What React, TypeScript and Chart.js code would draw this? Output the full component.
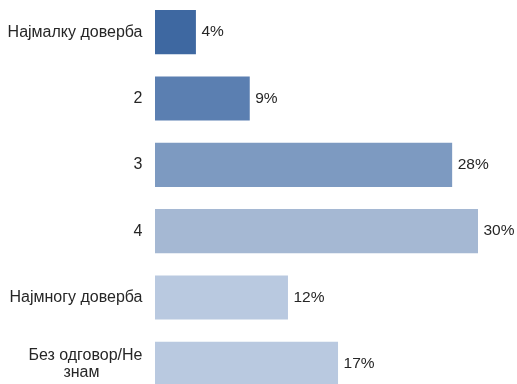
import React, { useEffect, useRef } from "react";
import { Chart, registerables } from "chart.js";

Chart.register(...registerables);

const categories: string[][] = [
  ["Најмалку доверба"],
  ["2"],
  ["3"],
  ["4"],
  ["Најмногу доверба"],
  ["Без одговор/Не", "знам"],
];
const values: number[] = [3.8, 8.8, 27.6, 30, 12.35, 17];
const valueLabels: string[] = ["4%", "9%", "28%", "30%", "12%", "17%"];
const barColors: string[] = ["#3e68a1", "#5b7fb1", "#7d9ac1", "#a5b8d3", "#b9c9e0", "#b9c9e0"];

const CAT_FONT = '16px "Liberation Sans", Arial, sans-serif';
const VAL_FONT = '15.5px "Liberation Sans", Arial, sans-serif';
const TEXT = "#262626";

const labelPlugin = {
  id: "customLabels",
  afterDatasetsDraw(chart: any) {
    const ctx = chart.ctx;
    const yScale = chart.scales.y;
    const meta = chart.getDatasetMeta(0);
    ctx.save();
    ctx.font = CAT_FONT;
    ctx.fillStyle = TEXT;
    ctx.textBaseline = "middle";
    const right = chart.chartArea.left - 12.5;
    categories.forEach((lines, i) => {
      const y = yScale.getPixelForValue(i);
      if (lines.length === 1) {
        ctx.textAlign = "right";
        ctx.fillText(lines[0], right, y);
      } else {
        const lh = 17;
        const w0 = ctx.measureText(lines[0]).width;
        const cx = right - w0 / 2 - 4;
        lines.forEach((ln, k) => {
          const yy = y + (k - (lines.length - 1) / 2) * lh;
          if (k === 0) {
            ctx.textAlign = "right";
            ctx.fillText(ln, right, yy);
          } else {
            ctx.textAlign = "center";
            ctx.fillText(ln, cx, yy);
          }
        });
      }
    });
    ctx.font = VAL_FONT;
    ctx.textAlign = "left";
    meta.data.forEach((bar: any, i: number) => {
      ctx.fillText(valueLabels[i], bar.x + 5.5, bar.y);
    });
    ctx.restore();
  },
};

export default function App() {
  const ref = useRef<HTMLCanvasElement>(null);
  useEffect(() => {
    if (!ref.current) return;
    const chart = new Chart(ref.current, {
      type: "bar",
      data: {
        labels: categories.map((c) => c.join(" ")),
        datasets: [
          {
            data: values,
            backgroundColor: barColors,
            borderWidth: 0,
            categoryPercentage: 1,
            barPercentage: 0.665,
          },
        ],
      },
      options: {
        indexAxis: "y",
        responsive: false,
        animation: false,
        layout: { padding: { left: 155, right: 39, top: 0, bottom: 0 } },
        plugins: { legend: { display: false }, tooltip: { enabled: false } },
        scales: {
          x: { display: false, min: 0, max: 30 },
          y: { display: false },
        },
      },
      plugins: [labelPlugin],
    });
    return () => chart.destroy();
  }, []);
  return (
    <div style={{ position: "fixed", left: 0, top: -1, width: 517, height: 398 }}>
      <canvas ref={ref} width={517} height={398} style={{ width: 517, height: 398, display: "block" }} />
    </div>
  );
}
